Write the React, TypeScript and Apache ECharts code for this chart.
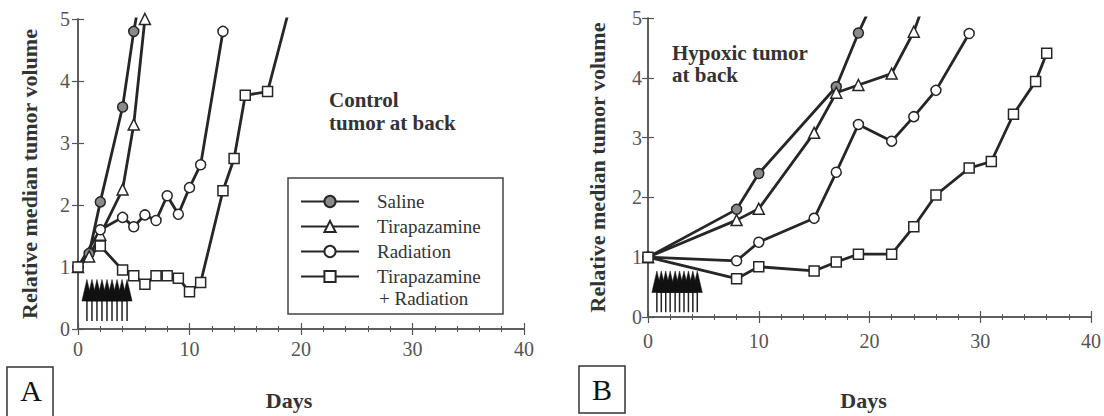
import React, { useEffect, useRef } from "react";
import * as echarts from "echarts";

// ---- data ----
const seriesNames = ["Saline", "Tirapazamine", "Radiation", "Tirapazamine\n+ Radiation"];
const yTicks = [0, 1, 2, 3, 4, 5];
const xTicks = [0, 10, 20, 30, 40];

// Panel A: control tumor at back
const salineA = [[0, 1], [1, 1.22], [2, 2.05], [4, 3.58], [5, 4.8], [6, 5.8]];
const tirapazamineA = [[0, 1], [1, 1.17], [2, 1.52], [4, 2.25], [5, 3.3], [6, 5.0]];
const radiationA = [[0, 1], [2, 1.6], [4, 1.8], [5, 1.65], [6, 1.84], [7, 1.75], [8, 2.15], [9, 1.85], [10, 2.28], [11, 2.65], [13, 4.8]];
const comboA = [[0, 1], [2, 1.34], [4, 0.95], [5, 0.86], [6, 0.72], [7, 0.86], [8, 0.86], [9, 0.82], [10, 0.6], [11, 0.75], [13, 2.23], [14, 2.75], [15, 3.77], [17, 3.83], [19, 5.2]];
const arrowDaysA = [0.8, 1.25, 1.7, 2.15, 2.6, 3.05, 3.5, 3.95, 4.4];

// Panel B: hypoxic tumor at back
const salineB = [[0, 1], [8, 1.8], [10, 2.4], [17, 3.85], [19, 4.75], [21, 5.55]];
const tirapazamineB = [[0, 1], [8, 1.62], [10, 1.81], [15, 3.08], [17, 3.75], [19, 3.88], [22, 4.07], [24, 4.77], [26, 5.8]];
const radiationB = [[0, 1], [8, 0.94], [10, 1.25], [15, 1.65], [17, 2.42], [19, 3.22], [22, 2.94], [24, 3.35], [26, 3.79], [29, 4.74]];
const comboB = [[0, 1], [8, 0.64], [10, 0.84], [15, 0.77], [17, 0.92], [19, 1.05], [22, 1.05], [24, 1.51], [26, 2.04], [29, 2.49], [31, 2.6], [33, 3.39], [35, 3.94], [36, 4.41]];
const arrowDaysB = [0.8, 1.2, 1.6, 2.0, 2.45, 2.85, 3.25, 3.65, 4.05, 4.45];

const SERIF = "Liberation Serif, serif";
const INK = "#262626";
const AX = "#555";

function buildOption() {
  const axisLine = { show: true, lineStyle: { color: AX, width: 1.5 } };
  const tick = { show: true, inside: true, length: 6, lineStyle: { color: AX, width: 1.2 } };
  const minor = { show: true, splitNumber: 5, length: 3, lineStyle: { color: AX, width: 1 } };
  const tickLabel = { fontFamily: SERIF, fontSize: 20, color: "#555" };
  const nameStyle = { fontFamily: SERIF, fontSize: 22, fontWeight: "bold", color: "#333" };

  const xAxes = (grid: number, nameGap: number, labelMargin: number, padRight: number) => [
    {
      type: "value", gridIndex: grid, min: xTicks[0], max: xTicks[xTicks.length - 1], interval: 10,
      position: "bottom", axisLine, axisTick: tick, minorTick: minor, splitLine: { show: false },
      axisLabel: { ...tickLabel, margin: labelMargin },
      name: "Days", nameLocation: "middle", nameGap,
      nameTextStyle: { ...nameStyle, padding: [0, padRight, 0, 0] },
    },
    {
      type: "value", gridIndex: grid, min: xTicks[0], max: xTicks[xTicks.length - 1], interval: 10,
      position: "top", axisLine, axisTick: tick, minorTick: minor, splitLine: { show: false },
      axisLabel: { show: false },
    },
  ];
  const yAxes = (grid: number, nameGap: number, labelMargin: number) => [
    {
      type: "value", gridIndex: grid, min: yTicks[0], max: yTicks[yTicks.length - 1], interval: 1,
      position: "left", axisLine, axisTick: tick, splitLine: { show: false },
      axisLabel: { ...tickLabel, margin: labelMargin },
      name: "Relative median tumor volume", nameLocation: "middle", nameGap, nameRotate: 90,
      nameTextStyle: nameStyle,
    },
    {
      type: "value", gridIndex: grid, min: yTicks[0], max: yTicks[yTicks.length - 1], interval: 1,
      position: "right", axisLine, axisTick: tick, splitLine: { show: false },
      axisLabel: { show: false },
    },
  ];

  const styles = [
    { symbol: "circle", symbolSize: 10, fill: "#8a8a8a" },
    { symbol: "triangle", symbolSize: 11, fill: "#ffffff" },
    { symbol: "circle", symbolSize: 10, fill: "#ffffff" },
    { symbol: "rect", symbolSize: 10, fill: "#ffffff" },
  ];

  const lineSeries = (data: number[][], idx: number, xi: number, yi: number) => ({
    type: "line", name: seriesNames[idx], data, xAxisIndex: xi, yAxisIndex: yi,
    symbol: styles[idx].symbol, symbolSize: styles[idx].symbolSize, showSymbol: true,
    lineStyle: { color: INK, width: 2.8 },
    itemStyle: { color: styles[idx].fill, borderColor: INK, borderWidth: 1.5 },
    clip: true, z: 3,
  });

  const arrowSeries = (days: number[], xi: number, yi: number, tipY: number, baseY: number, botY: number) => ({
    type: "custom", xAxisIndex: xi, yAxisIndex: yi, silent: true, z: 2,
    data: days.map((d) => [d]),
    renderItem: (_params: any, api: any) => {
      const x = api.value(0);
      const tip = api.coord([x, tipY]);
      const base = api.coord([x, baseY]);
      const bot = api.coord([x, botY]);
      return {
        type: "group",
        children: [
          { type: "line", shape: { x1: base[0], y1: base[1], x2: bot[0], y2: bot[1] }, style: { stroke: "#222", lineWidth: 1.5 } },
          { type: "polygon", shape: { points: [[tip[0], tip[1]], [base[0] - 5, base[1]], [base[0] + 5, base[1]]] }, style: { fill: "#111", stroke: "#111", lineWidth: 0.5 } },
        ],
      };
    },
  });

  const legendText = { fontFamily: SERIF, fontSize: 19, color: "#333", lineHeight: 21, padding: [0, 0, 0, 13] };

  return {
    animation: false,
    backgroundColor: "#ffffff",
    grid: [
      { left: 78, top: 19, width: 446, height: 311 },
      { left: 648, top: 18, width: 448, height: 304 },
    ],
    xAxis: [...xAxes(0, 60, 10, 24), ...xAxes(1, 72, 14, 12)],
    yAxis: [...yAxes(0, 38, 8), ...yAxes(1, 40, 6)],
    legend: {
      left: 300, top: 191, padding: 0, orient: "vertical", itemWidth: 58, itemHeight: 14, itemGap: 4,
      selectedMode: false,
      formatter: (name: string) => name.split("\n")[0],
      data: seriesNames,
      textStyle: legendText,
    },
    graphic: [
      { type: "rect", shape: { x: 288, y: 178, width: 215, height: 136 }, style: { fill: "none", stroke: "#444", lineWidth: 1.5 }, z: 1 },
      { type: "text", x: 379, y: 298, style: { text: "+ Radiation", fontFamily: SERIF, fontSize: 19, fill: "#333", align: "left", verticalAlign: "middle" } },
      { type: "text", x: 329, y: 88, style: { text: "Control\ntumor at back", fontFamily: SERIF, fontSize: 21, fontWeight: "bold", fill: "#333", lineHeight: 23, align: "left", verticalAlign: "top" } },
      { type: "text", x: 672, y: 42, style: { text: "Hypoxic tumor\nat back", fontFamily: SERIF, fontSize: 21, fontWeight: "bold", fill: "#333", lineHeight: 22, align: "left", verticalAlign: "top" } },
      { type: "rect", shape: { x: 7, y: 367, width: 46, height: 52 }, style: { fill: "none", stroke: "#333", lineWidth: 1.5 } },
      { type: "text", x: 31, y: 390, style: { text: "A", fontFamily: SERIF, fontSize: 30, fill: "#111", align: "center", verticalAlign: "middle" } },
      { type: "rect", shape: { x: 579, y: 366, width: 46, height: 47 }, style: { fill: "none", stroke: "#333", lineWidth: 1.5 } },
      { type: "text", x: 602, y: 389, style: { text: "B", fontFamily: SERIF, fontSize: 30, fill: "#111", align: "center", verticalAlign: "middle" } },
    ],
    series: [
      arrowSeries(arrowDaysA, 0, 0, 0.8, 0.45, 0.13),
      lineSeries(salineA, 0, 0, 0),
      lineSeries(tirapazamineA, 1, 0, 0),
      lineSeries(radiationA, 2, 0, 0),
      lineSeries(comboA, 3, 0, 0),
      arrowSeries(arrowDaysB, 2, 2, 0.77, 0.41, 0.08),
      lineSeries(salineB, 0, 2, 2),
      lineSeries(tirapazamineB, 1, 2, 2),
      lineSeries(radiationB, 2, 2, 2),
      lineSeries(comboB, 3, 2, 2),
    ],
  };
}

export default function App() {
  const ref = useRef<HTMLDivElement | null>(null);
  useEffect(() => {
    if (!ref.current) return;
    const chart = echarts.init(ref.current, undefined, { renderer: "svg" });
    chart.setOption(buildOption() as any);
    return () => chart.dispose();
  }, []);
  return <div ref={ref} style={{ position: "fixed", left: 0, top: 0, width: 1104, height: 416, background: "#fff" }} />;
}
